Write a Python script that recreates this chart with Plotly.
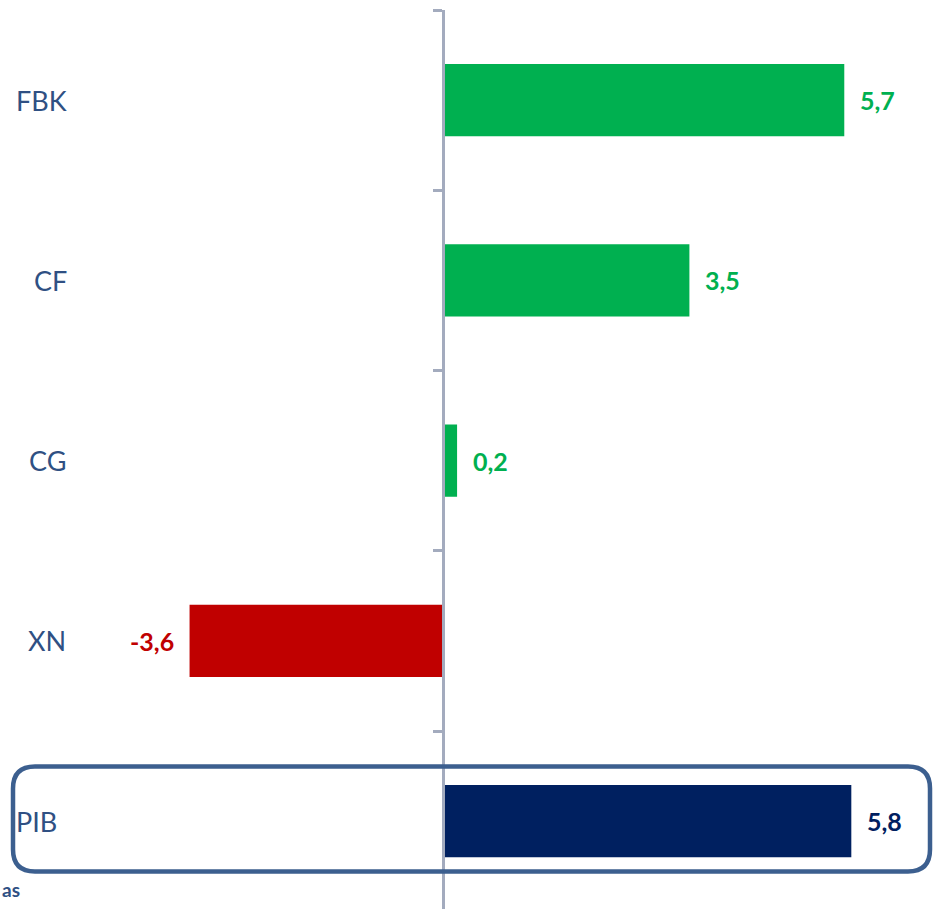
import plotly.graph_objects as go

# ---- data ----
categories = ["FBK", "CF", "CG", "XN", "PIB"]
values = [5.7, 3.5, 0.2, -3.6, 5.8]
value_labels = ["5,7", "3,5", "0,2", "-3,6", "5,8"]
bar_colors = ["#00B050", "#00B050", "#00B050", "#C00000", "#002060"]
footer_text = "as"

# ---- layout constants (pixels) ----
W, H = 938, 909
axis_px = 443
px_per_unit = 70.4
top_px = 10
band_px = 180.25
label_right_px = [69, 69, 68, 68, 59]

label_color = "#2F5083"
axis_color = "#A3ABBE"
box_color = "#3C5F8F"

fig = go.Figure()
fig.add_trace(go.Bar(
    x=values, y=categories, orientation="h",
    marker=dict(color=bar_colors, line=dict(width=0)),
    hoverinfo="skip",
))

x_min = -axis_px / px_per_unit
x_max = (W - axis_px) / px_per_unit
n = len(categories)
dom_top = 1 - top_px / H
y_top = n - 0.5
y_bottom = y_top - (H - top_px) / band_px

annotations = []
for cat, v, lab, col, rx in zip(categories, values, value_labels, bar_colors, label_right_px):
    annotations.append(dict(
        x=v, y=cat, xref="x", yref="y", text=lab, showarrow=False,
        xanchor="left" if v >= 0 else "right",
        xshift=14 if v >= 0 else -14,
        font=dict(family="Lato", size=25, color=col, weight="bold"),
    ))
    annotations.append(dict(
        x=rx / W, y=cat, xref="paper", yref="y", text=cat, showarrow=False,
        xanchor="right", xshift=0,
        font=dict(family="Lato", size=27, color=label_color),
    ))
annotations.append(dict(
    x=0, y=1 - 889 / H, xref="paper", yref="paper", text=footer_text,
    showarrow=False, xanchor="left", yanchor="middle",
    font=dict(family="Lato", size=19, color=label_color, weight="bold"),
))

# rounded box around PIB
x0, x1 = 13 / W, 930 / W
y0, y1 = 1 - 871.5 / H, 1 - 766.5 / H
rx, ry = 22 / W, 22 / H
path = (f"M {x0+rx},{y1} L {x1-rx},{y1} Q {x1},{y1} {x1},{y1-ry} "
        f"L {x1},{y0+ry} Q {x1},{y0} {x1-rx},{y0} L {x0+rx},{y0} "
        f"Q {x0},{y0} {x0},{y0+ry} L {x0},{y1-ry} Q {x0},{y1} {x0+rx},{y1} Z")

fig.update_layout(
    width=W, height=H,
    margin=dict(l=0, r=0, t=0, b=0),
    paper_bgcolor="white", plot_bgcolor="white",
    showlegend=False,
    bargap=0.6,
    xaxis=dict(visible=False, range=[x_min, x_max], domain=[0, 1]),
    yaxis=dict(
        categoryorder="array", categoryarray=categories[::-1],
        range=[y_bottom, y_top], domain=[0, dom_top],
        anchor="free", position=axis_px / W,
        showticklabels=False, showgrid=False, zeroline=False,
        showline=True, linecolor=axis_color, linewidth=2.5,
        ticks="outside", tickson="boundaries", ticklen=9,
        tickwidth=2.5, tickcolor=axis_color,
    ),
    annotations=annotations,
    shapes=[dict(type="path", path=path, xref="paper", yref="paper",
                 line=dict(color=box_color, width=4.5), fillcolor="rgba(0,0,0,0)")],
)

fig.write_html("out.html", config={"displayModeBar": False},
               post_script="document.body.style.margin='0px';document.body.style.overflow='hidden';")
